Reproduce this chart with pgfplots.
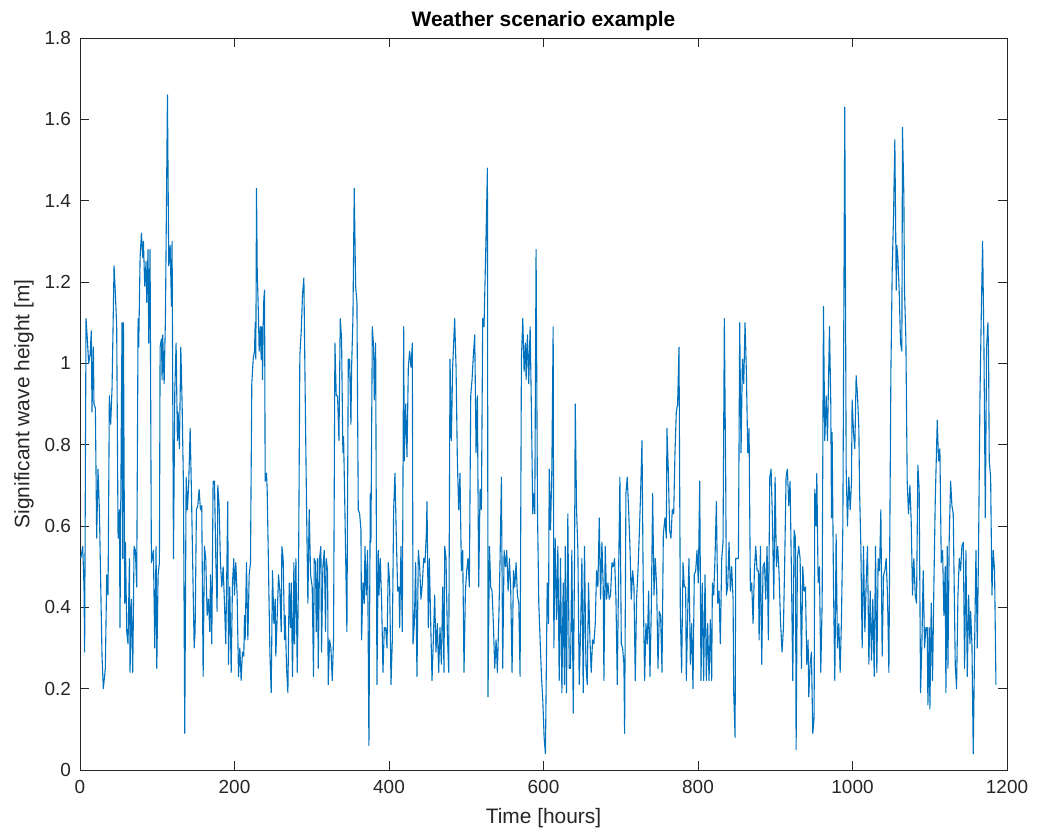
\documentclass[border=0pt]{standalone}
\usepackage{pgfplots}
\pgfplotsset{compat=1.18}
\usepackage{pgfplotstable}
\usepackage{fontspec}
\setmainfont{Liberation Sans}
\definecolor{mblue}{RGB}{0,114,189}
\definecolor{axgray}{RGB}{38,38,38}
\pgfplotstableread{
t v
0.9 0.52
3.5 0.55
5.2 0.45
6.0 0.29
7.8 1.11
9.5 1.06
11.2 1.00
13.0 1.02
14.7 1.08
15.5 0.88
17.3 1.04
18.1 0.90
19.9 0.89
21.6 0.57
23.3 0.74
25.1 0.64
26.8 0.46
28.5 0.28
30.2 0.20
32.8 0.25
34.6 0.48
36.3 0.43
38.0 0.92
39.7 0.85
41.5 0.94
44.1 1.24
45.8 1.17
47.5 1.09
49.3 0.57
51.0 0.64
51.8 0.35
52.7 0.63
54.4 1.10
55.3 0.52
56.2 1.10
57.9 0.41
58.8 0.56
60.5 0.34
62.2 0.31
64.0 0.52
64.8 0.24
66.5 0.42
68.3 0.24
70.0 0.55
71.7 0.54
73.4 0.45
75.2 1.11
76.0 1.04
77.8 1.26
79.5 1.32
81.2 1.26
82.1 1.30
83.8 1.19
85.5 1.25
86.4 1.15
88.1 1.28
89.0 1.05
90.7 1.28
92.4 0.51
95.0 0.54
96.8 0.30
98.5 0.55
99.4 0.25
101.1 0.48
102.8 0.51
103.7 1.04
105.4 1.06
106.3 0.96
107.1 1.07
108.9 0.95
110.6 1.11
113.2 1.66
114.9 1.24
116.7 1.29
118.4 1.14
119.2 1.30
121.0 0.52
122.7 0.93
124.4 1.05
126.1 0.81
127.0 0.88
128.7 0.79
130.5 1.04
132.2 0.90
133.9 0.70
135.6 0.09
137.4 0.72
139.1 0.64
140.8 0.71
142.6 0.84
144.3 0.68
147.8 0.30
149.0 0.34
150.7 0.64
152.5 0.65
154.2 0.69
155.9 0.64
157.6 0.65
159.4 0.23
161.1 0.55
162.8 0.52
164.6 0.38
166.3 0.42
168.0 0.34
168.9 0.48
170.6 0.31
172.3 0.71
174.1 0.71
175.8 0.52
177.5 0.39
178.4 0.70
180.1 0.65
181.8 0.51
183.6 0.45
185.3 0.50
187.0 0.41
188.7 0.31
190.5 0.55
191.3 0.66
192.2 0.26
193.9 0.45
195.7 0.24
197.4 0.46
199.1 0.52
200.0 0.43
201.7 0.51
203.4 0.43
205.2 0.23
206.9 0.30
208.6 0.22
210.3 0.29
212.1 0.28
212.9 0.38
213.8 0.32
215.5 0.51
217.3 0.32
219.0 0.48
220.7 0.51
222.4 0.95
224.2 1.01
225.9 1.03
226.8 1.10
227.6 1.01
228.5 1.43
229.4 1.23
231.1 1.11
231.9 1.03
233.7 1.09
234.5 1.01
235.4 1.09
236.3 0.96
237.1 1.09
238.0 1.16
238.9 1.18
239.7 0.71
241.4 0.73
242.3 0.69
244.0 0.50
245.8 0.29
247.5 0.19
249.2 0.49
251.0 0.36
252.7 0.42
253.5 0.28
255.3 0.38
257.0 0.48
258.7 0.44
260.5 0.34
261.3 0.55
263.0 0.52
264.8 0.32
265.6 0.38
267.4 0.25
269.1 0.19
270.8 0.46
272.6 0.35
273.4 0.46
275.1 0.23
276.9 0.51
277.7 0.31
279.5 0.52
281.2 0.24
282.9 0.48
284.6 1.02
286.4 1.08
288.1 1.17
289.8 1.21
291.6 0.91
293.3 0.64
295.0 0.41
296.7 0.64
298.5 0.48
300.6 0.45
302.3 0.23
303.2 0.52
304.9 0.51
305.8 0.34
307.5 0.52
308.4 0.25
310.1 0.52
311.8 0.55
312.7 0.29
314.4 0.50
316.2 0.54
317.9 0.34
318.7 0.52
320.5 0.49
321.3 0.21
323.1 0.32
324.8 0.30
326.5 0.22
328.2 0.32
330.0 1.05
331.7 0.92
333.4 0.92
335.2 0.81
336.9 1.11
338.6 1.06
340.3 0.78
341.2 0.82
342.9 0.64
345.5 0.34
347.3 1.01
349.0 1.01
350.7 0.85
351.6 0.99
353.3 1.11
355.0 1.43
356.8 1.19
358.5 1.15
360.2 0.64
362.0 0.63
363.7 0.59
364.5 0.32
366.3 0.46
368.0 0.41
368.9 0.55
370.6 0.43
372.3 0.54
374.0 0.06
375.8 0.68
376.6 0.56
378.4 1.09
380.1 1.04
381.0 0.91
382.7 1.05
384.4 0.21
386.1 0.54
387.0 0.43
388.7 0.52
390.5 0.41
392.2 0.24
393.9 0.35
395.6 0.35
397.4 0.30
399.1 0.51
400.8 0.46
402.6 0.21
404.3 0.32
406.0 0.64
407.7 0.73
409.5 0.57
411.2 0.44
412.9 0.45
413.8 0.35
415.5 0.55
417.2 0.34
419.0 1.09
419.8 0.76
421.6 0.90
423.3 0.77
425.0 0.99
426.7 1.03
428.5 0.99
430.2 1.05
431.1 0.31
432.8 0.36
434.5 0.51
436.2 0.23
438.0 0.54
439.7 0.50
441.4 0.42
443.2 0.46
444.9 0.52
446.6 0.51
448.3 0.58
449.2 0.66
450.9 0.35
452.2 0.52
453.9 0.37
455.7 0.22
457.4 0.32
459.1 0.43
460.8 0.29
462.6 0.36
464.3 0.24
466.0 0.35
467.8 0.26
469.5 0.45
471.2 0.24
472.1 0.55
473.8 0.52
475.5 0.34
477.3 0.24
479.0 1.01
480.7 0.81
482.4 0.99
485.0 1.11
486.8 0.99
488.5 0.76
490.2 0.64
491.9 0.73
493.7 0.49
495.4 0.54
497.1 0.24
498.9 0.44
500.6 0.49
502.3 0.52
504.0 0.45
505.8 0.92
507.5 0.96
509.2 1.02
511.0 1.07
512.7 0.78
514.4 0.92
516.1 0.45
517.9 0.69
519.6 0.64
521.3 1.11
523.0 1.09
525.6 1.31
527.4 1.48
528.2 0.18
530.0 0.55
531.7 0.45
533.4 0.44
535.1 0.36
536.9 0.25
538.6 0.32
540.3 0.24
542.1 0.37
543.8 0.52
545.5 0.72
547.2 0.25
549.0 0.54
550.7 0.50
552.4 0.54
554.2 0.44
555.9 0.52
557.6 0.44
559.3 0.24
561.1 0.49
562.8 0.45
564.5 0.51
566.2 0.43
568.0 0.41
569.7 0.23
571.4 1.01
573.2 1.11
574.9 0.98
576.6 1.05
577.5 0.96
579.2 1.07
580.9 0.95
582.7 1.09
584.4 0.88
586.1 0.63
587.8 0.68
588.7 0.63
590.4 1.28
592.2 0.64
593.9 0.41
595.6 0.32
597.4 0.23
599.1 0.17
600.8 0.08
602.5 0.04
604.8 0.46
606.5 0.36
607.4 0.74
609.1 0.59
610.8 0.74
612.5 1.09
613.4 0.30
615.1 0.57
616.9 0.37
618.6 0.55
620.3 0.22
622.0 0.52
623.8 0.19
625.5 0.46
627.2 0.21
628.1 0.55
629.8 0.19
631.5 0.63
633.3 0.25
635.0 0.25
636.7 0.54
638.5 0.14
640.2 0.52
641.1 0.90
642.8 0.64
644.5 0.54
646.2 0.21
648.0 0.34
649.7 0.52
651.4 0.19
653.1 0.55
654.9 0.26
656.6 0.21
658.3 0.46
660.1 0.32
661.8 0.24
663.5 0.32
665.2 0.31
667.0 0.36
668.7 0.49
670.4 0.45
672.2 0.62
673.9 0.42
675.6 0.56
677.3 0.45
678.2 0.22
679.9 0.55
681.7 0.42
683.4 0.46
685.1 0.42
686.8 0.43
688.6 0.51
690.3 0.50
692.0 0.52
693.8 0.42
695.5 0.21
697.2 0.48
698.9 0.72
700.7 0.31
702.4 0.30
704.1 0.26
705.0 0.09
706.7 0.68
708.4 0.72
710.2 0.64
711.9 0.55
713.6 0.42
715.4 0.49
717.1 0.45
718.8 0.22
720.5 0.42
722.3 0.49
724.0 0.58
725.7 0.68
727.5 0.81
729.2 0.43
730.9 0.22
732.6 0.36
734.4 0.31
736.1 0.44
737.8 0.23
739.5 0.39
741.3 0.68
743.0 0.43
744.7 0.52
746.5 0.45
748.2 0.25
749.9 0.39
751.6 0.38
753.4 0.24
755.1 0.58
757.2 0.62
759.0 0.57
759.8 0.84
761.5 0.74
763.3 0.59
765.0 0.57
766.7 0.64
768.5 0.63
770.2 0.78
771.9 0.88
773.6 0.90
775.4 1.04
777.1 0.39
778.8 0.24
780.6 0.51
782.3 0.45
784.0 0.45
784.9 0.22
786.6 0.38
788.3 0.52
790.1 0.26
791.8 0.36
793.5 0.20
795.2 0.48
797.0 0.49
798.7 0.54
800.4 0.46
802.2 0.71
803.9 0.22
805.6 0.46
807.3 0.22
809.1 0.48
810.8 0.22
812.5 0.36
814.3 0.22
816.0 0.37
817.7 0.22
818.6 0.46
820.3 0.43
822.0 0.52
823.8 0.66
825.5 0.41
827.2 0.44
828.9 0.31
830.7 0.52
832.4 0.56
834.1 1.11
835.9 0.71
836.7 0.43
838.4 0.45
840.2 0.56
841.9 0.44
843.6 0.50
845.4 0.42
846.2 0.19
848.0 0.08
848.8 0.52
850.5 0.52
852.3 0.52
854.0 1.10
855.7 0.78
857.5 1.01
859.2 0.95
860.9 1.10
862.6 0.98
864.4 0.78
866.1 0.84
867.8 0.44
869.5 0.46
871.3 0.36
873.0 0.49
874.7 0.55
876.5 0.49
878.2 0.49
879.1 0.32
880.8 0.55
882.5 0.26
884.2 0.50
886.0 0.51
887.7 0.42
889.4 0.55
891.1 0.32
892.9 0.72
894.6 0.74
896.3 0.62
898.1 0.42
899.8 0.72
901.5 0.50
903.2 0.55
905.0 0.48
906.7 0.37
908.8 0.29
910.6 0.35
912.3 0.52
914.0 0.72
915.7 0.74
917.5 0.65
919.2 0.71
920.9 0.49
922.7 0.22
924.4 0.59
926.1 0.57
927.0 0.05
928.7 0.52
930.4 0.55
932.2 0.52
933.9 0.25
935.6 0.50
937.3 0.44
939.1 0.45
940.8 0.26
942.5 0.32
943.4 0.18
945.1 0.26
946.8 0.29
948.6 0.09
950.3 0.13
951.2 0.69
952.9 0.60
953.8 0.73
955.5 0.46
957.2 0.50
958.9 0.24
960.7 0.41
962.4 1.14
964.1 0.81
965.9 0.92
967.6 0.81
970.2 1.09
971.9 0.90
972.8 0.62
973.6 0.83
975.4 0.45
977.1 0.22
978.8 0.58
980.5 0.30
982.3 0.36
984.0 0.24
985.7 0.37
987.5 0.60
990.0 1.63
991.8 0.74
993.5 0.60
995.2 0.72
997.0 0.64
998.7 0.71
999.5 0.91
1001.3 0.83
1003.0 0.79
1004.7 0.97
1006.5 0.92
1008.2 0.84
1009.1 0.69
1010.8 0.55
1012.5 0.30
1014.2 0.55
1016.0 0.34
1017.7 0.46
1019.4 0.55
1021.2 0.26
1022.9 0.44
1024.6 0.27
1026.3 0.42
1028.1 0.23
1029.8 0.55
1031.5 0.24
1033.2 0.52
1035.0 0.49
1036.7 0.64
1038.4 0.28
1040.2 0.48
1041.9 0.49
1043.6 0.52
1045.3 0.43
1047.1 0.24
1049.7 0.98
1051.4 1.23
1053.1 1.36
1054.8 1.55
1056.6 1.18
1057.4 1.29
1058.7 1.26
1060.4 1.18
1062.2 1.05
1063.9 1.03
1064.7 1.58
1066.5 1.41
1067.3 1.18
1069.1 1.06
1070.8 0.71
1072.5 0.63
1074.3 0.70
1076.0 0.61
1077.7 0.43
1079.4 0.52
1081.2 0.43
1082.9 0.41
1084.6 0.75
1086.3 0.69
1088.1 0.19
1089.8 0.31
1091.5 0.49
1093.3 0.30
1095.0 0.35
1096.7 0.35
1097.6 0.16
1099.3 0.35
1100.2 0.15
1101.9 0.41
1103.6 0.22
1105.4 0.46
1107.1 0.66
1109.7 0.86
1111.4 0.76
1113.1 0.79
1114.9 0.51
1116.6 0.54
1118.3 0.38
1120.0 0.50
1120.9 0.19
1122.6 0.55
1123.5 0.25
1125.2 0.57
1127.0 0.71
1128.7 0.65
1130.4 0.63
1133.0 0.26
1134.7 0.20
1136.5 0.43
1138.2 0.52
1139.9 0.49
1141.6 0.55
1143.4 0.56
1145.1 0.25
1146.8 0.54
1148.6 0.23
1150.3 0.43
1152.0 0.31
1152.9 0.39
1154.6 0.31
1156.3 0.04
1158.1 0.31
1159.8 0.54
1161.5 0.30
1163.2 0.55
1165.0 0.92
1166.7 1.12
1168.4 1.30
1170.1 1.05
1171.9 0.62
1173.6 1.04
1175.3 1.10
1176.2 1.01
1177.0 0.76
1178.8 0.72
1180.5 0.43
1182.2 0.54
1183.9 0.49
1185.7 0.21
}\wavedata
\begin{document}
\begin{tikzpicture}
\useasboundingbox (-40bp,-35bp) rectangle (479bp,385bp);
\begin{axis}[
  at={(0,0)}, anchor=south west,
  scale only axis,
  width=463.5bp, height=366bp,
  xmin=0, xmax=1200, ymin=0, ymax=1.8,
  xtick={0,200,...,1200},
  ytick={0,0.2,...,1.8},
  yticklabels={0,0.2,0.4,0.6,0.8,1,1.2,1.4,1.6,1.8},
  tick align=inside,
  major tick length=4.5bp,
  axis line style={axgray, line width=0.4bp},
  every tick/.style={axgray, line width=0.4bp},
  tick label style={font=\fontsize{9.5}{11}\selectfont, text=axgray},
  /pgf/number format/assume math mode=true,
  /pgf/number format/1000 sep={},
  scaled ticks=false,
  xticklabel style={yshift=-1.5bp},
  yticklabel style={xshift=-1bp},
  every axis title shift=0pt,
  title={Weather scenario example},
  title style={font=\bfseries\fontsize{10.5}{12}\selectfont, at={(axis description cs:0.5,1)}, anchor=base, yshift=5.5bp},
  xlabel={Time [hours]},
  ylabel={Significant wave height [m]},
  label style={font=\fontsize{10.5}{12}\selectfont, text=axgray},
  xlabel style={at={(axis description cs:0.5,0)}, anchor=center, yshift=-24bp},
  ylabel style={at={(axis description cs:0,0.5)}, anchor=center, yshift=28bp},
]
\addplot[mblue, line width=0.55bp, line join=round] table[x=t, y=v] {\wavedata};
\end{axis}
\end{tikzpicture}
\end{document}
